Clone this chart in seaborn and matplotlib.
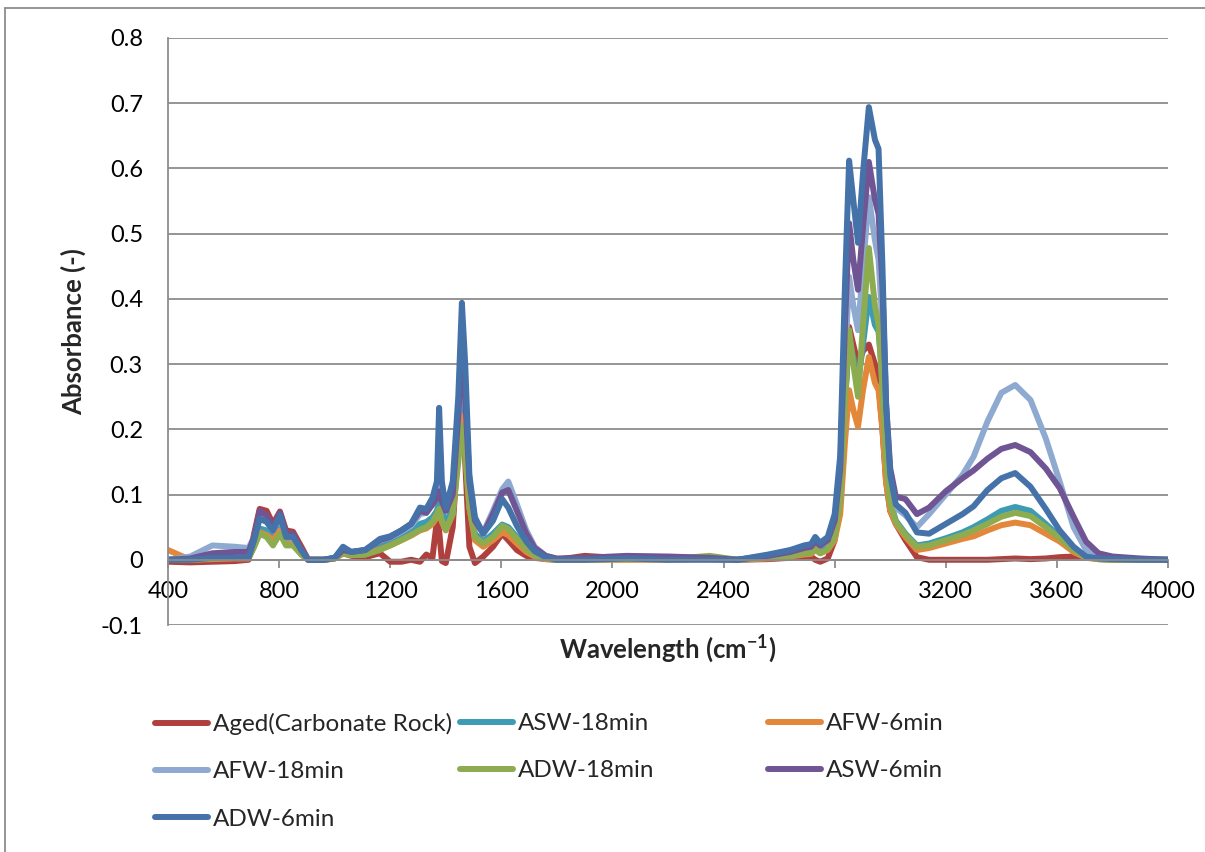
import pandas as pd
import matplotlib.pyplot as plt
import seaborn as sns
from matplotlib.lines import Line2D
from matplotlib.ticker import FuncFormatter

sns.set_style("white")
plt.rcParams["font.family"] = ["Lato", "DejaVu Sans"]
plt.rcParams["mathtext.fontset"] = "custom"
plt.rcParams["mathtext.rm"] = "Lato"
plt.rcParams["mathtext.bf"] = "Lato:bold"
plt.rcParams["mathtext.default"] = "bf"

# wavenumber grid (cm-1) shared by all spectra
wavenumber = [400, 480, 560, 640, 690, 710, 730, 755, 778, 803,
              825, 850, 880, 905, 960, 1000, 1030, 1060, 1110, 1163,
              1200, 1240, 1275, 1307, 1330, 1352, 1368, 1376, 1386, 1400,
              1425, 1445, 1458, 1470, 1485, 1505, 1535, 1570, 1603, 1625,
              1656, 1690, 1720, 1760, 1800, 1900, 2050, 2200, 2350, 2450,
              2560, 2640, 2690, 2715, 2730, 2748, 2775, 2800, 2820, 2837,
              2852, 2867, 2884, 2902, 2923, 2945, 2958, 2972, 2985, 3000,
              3020, 3055, 3096, 3140, 3200, 3260, 3300, 3350, 3400, 3450,
              3505, 3560, 3610, 3660, 3705, 3750, 3800, 3900, 4000]

aged = [-0.003, -0.004, -0.003, -0.002, 0.0, 0.04, 0.078, 0.075, 0.055, 0.074,
        0.045, 0.043, 0.02, 0.0, 0.0, 0.002, 0.01, 0.006, 0.004, 0.01,
        -0.003, -0.003, 0.0, -0.003, 0.008, 0.003, 0.06, 0.045, -0.002, -0.005,
        0.05, 0.18, 0.3, 0.15, 0.02, -0.005, 0.005, 0.02, 0.04, 0.03,
        0.015, 0.006, 0.003, 0.001, 0.0, 0.006, 0.002, 0.001, 0.001, 0.0,
        0.001, 0.003, 0.005, 0.005, 0.0, -0.003, 0.002, 0.03, 0.09, 0.24,
        0.357, 0.33, 0.3, 0.32, 0.33, 0.3, 0.27, 0.2, 0.12, 0.075,
        0.055, 0.03, 0.004, 0.0, 0.0, 0.0, 0.0, 0.0, 0.001, 0.002,
        0.001, 0.002, 0.004, 0.005, 0.004, 0.002, 0.001, 0.0, 0.0]

asw_18 = [0.0, 0.0, 0.002, 0.003, 0.003, 0.025, 0.048, 0.045, 0.035, 0.05,
          0.03, 0.028, 0.01, 0.0, 0.0, 0.002, 0.012, 0.008, 0.01, 0.02,
          0.026, 0.035, 0.043, 0.055, 0.058, 0.065, 0.075, 0.09, 0.075, 0.055,
          0.08, 0.17, 0.25, 0.19, 0.09, 0.04, 0.028, 0.04, 0.054, 0.05,
          0.035, 0.018, 0.008, 0.002, 0.0, 0.001, 0.001, 0.001, 0.003, 0.0,
          0.004, 0.008, 0.012, 0.013, 0.02, 0.014, 0.02, 0.04, 0.1, 0.24,
          0.34, 0.31, 0.27, 0.33, 0.403, 0.36, 0.35, 0.28, 0.16, 0.09,
          0.06, 0.04, 0.022, 0.025, 0.033, 0.042, 0.05, 0.062, 0.075, 0.081,
          0.075, 0.055, 0.035, 0.015, 0.004, 0.001, 0.0, 0.0, 0.0]

afw_6 = [0.015, 0.0, 0.001, 0.002, 0.002, 0.02, 0.042, 0.038, 0.03, 0.045,
         0.025, 0.025, 0.008, 0.0, 0.0, 0.002, 0.01, 0.007, 0.008, 0.016,
         0.022, 0.03, 0.037, 0.045, 0.048, 0.055, 0.065, 0.075, 0.058, 0.045,
         0.07, 0.16, 0.22, 0.17, 0.08, 0.03, 0.02, 0.03, 0.042, 0.038,
         0.025, 0.012, 0.005, 0.001, 0.0, 0.0, 0.0, 0.0, 0.002, 0.0,
         0.002, 0.005, 0.008, 0.009, 0.015, 0.01, 0.015, 0.03, 0.07, 0.18,
         0.26, 0.23, 0.204, 0.26, 0.311, 0.271, 0.26, 0.2, 0.12, 0.075,
         0.055, 0.035, 0.015, 0.018, 0.025, 0.032, 0.036, 0.045, 0.053, 0.057,
         0.053, 0.04, 0.028, 0.012, 0.003, 0.001, 0.0, 0.0, 0.0]

afw_18 = [0.0, 0.005, 0.022, 0.02, 0.018, 0.035, 0.065, 0.06, 0.045, 0.065,
          0.035, 0.033, 0.012, 0.0, 0.0, 0.003, 0.017, 0.012, 0.015, 0.03,
          0.034, 0.043, 0.052, 0.07, 0.072, 0.085, 0.1, 0.115, 0.1, 0.08,
          0.1, 0.22, 0.33, 0.25, 0.12, 0.06, 0.042, 0.075, 0.108, 0.12,
          0.085, 0.045, 0.02, 0.006, 0.001, 0.001, 0.001, 0.001, 0.001, 0.0,
          0.006, 0.012, 0.018, 0.02, 0.028, 0.022, 0.028, 0.055, 0.12, 0.3,
          0.434, 0.39, 0.352, 0.45, 0.556, 0.49, 0.46, 0.36, 0.2, 0.12,
          0.08, 0.068, 0.05, 0.07, 0.1, 0.13, 0.158, 0.212, 0.256, 0.268,
          0.245, 0.186, 0.12, 0.05, 0.015, 0.005, 0.002, 0.0, 0.0]

adw_18 = [0.0, 0.0, 0.002, 0.003, 0.003, 0.02, 0.04, 0.035, 0.022, 0.04,
          0.022, 0.022, 0.008, 0.0, 0.0, 0.002, 0.01, 0.007, 0.008, 0.015,
          0.022, 0.03, 0.038, 0.046, 0.05, 0.058, 0.07, 0.078, 0.06, 0.046,
          0.07, 0.15, 0.205, 0.16, 0.08, 0.035, 0.025, 0.035, 0.052, 0.047,
          0.032, 0.016, 0.007, 0.002, 0.0, 0.0, 0.001, 0.001, 0.006, 0.0,
          0.003, 0.006, 0.01, 0.01, 0.018, 0.01, 0.016, 0.035, 0.09, 0.24,
          0.352, 0.3, 0.25, 0.36, 0.478, 0.39, 0.36, 0.26, 0.15, 0.085,
          0.058, 0.038, 0.02, 0.022, 0.03, 0.038, 0.045, 0.055, 0.066, 0.072,
          0.067, 0.05, 0.033, 0.015, 0.004, 0.001, 0.0, 0.0, 0.0]

asw_6 = [0.0, 0.002, 0.01, 0.012, 0.012, 0.035, 0.075, 0.068, 0.05, 0.072,
         0.04, 0.04, 0.015, 0.0, 0.0, 0.003, 0.015, 0.012, 0.015, 0.03,
         0.035, 0.045, 0.055, 0.075, 0.072, 0.085, 0.095, 0.105, 0.09, 0.075,
         0.1, 0.22, 0.33, 0.25, 0.12, 0.06, 0.04, 0.07, 0.103, 0.107,
         0.075, 0.04, 0.018, 0.006, 0.002, 0.003, 0.006, 0.005, 0.003, 0.0,
         0.006, 0.012, 0.018, 0.02, 0.028, 0.022, 0.03, 0.06, 0.14, 0.36,
         0.516, 0.46, 0.414, 0.51, 0.61, 0.552, 0.53, 0.42, 0.24, 0.14,
         0.097, 0.093, 0.07, 0.08, 0.105, 0.125, 0.137, 0.155, 0.17, 0.176,
         0.165, 0.14, 0.11, 0.066, 0.028, 0.01, 0.005, 0.002, 0.0]

adw_6 = [0.0, 0.0, 0.003, 0.003, 0.003, 0.03, 0.063, 0.058, 0.045, 0.068,
         0.035, 0.035, 0.015, 0.0, 0.0, 0.003, 0.02, 0.012, 0.015, 0.032,
         0.036, 0.045, 0.055, 0.08, 0.078, 0.095, 0.12, 0.233, 0.12, 0.08,
         0.12, 0.25, 0.394, 0.3, 0.13, 0.065, 0.04, 0.06, 0.093, 0.08,
         0.052, 0.028, 0.013, 0.004, 0.0, 0.0, 0.002, 0.0, 0.0, 0.0,
         0.008, 0.015, 0.022, 0.024, 0.035, 0.026, 0.035, 0.07, 0.16, 0.42,
         0.612, 0.552, 0.486, 0.593, 0.694, 0.644, 0.63, 0.45, 0.24, 0.13,
         0.085, 0.072, 0.042, 0.04, 0.055, 0.07, 0.082, 0.107, 0.125, 0.133,
         0.112, 0.078, 0.045, 0.02, 0.005, 0.002, 0.001, 0.0, 0.0]

series_names = ["Aged(Carbonate Rock)", "ASW-18min", "AFW-6min", "AFW-18min",
                "ADW-18min", "ASW-6min", "ADW-6min"]
series_values = [aged, asw_18, afw_6, afw_18, adw_18, asw_6, adw_6]
colors = ["#B0403D", "#3D9CB3", "#E3873A", "#8FAAD1", "#8DAC50", "#705595", "#4573A9"]

df = pd.concat([pd.DataFrame({"Wavenumber": wavenumber, "Absorbance": vals, "Sample": name})
                for name, vals in zip(series_names, series_values)], ignore_index=True)

fig = plt.figure(figsize=(12.05, 8.52), dpi=100)
ax = fig.add_axes([168 / 1205, 1 - 625 / 852, 1000 / 1205, 587 / 852])

sns.lineplot(data=df, x="Wavenumber", y="Absorbance", hue="Sample",
             hue_order=series_names, palette=colors, linewidth=4.3,
             solid_joinstyle="round", solid_capstyle="round",
             estimator=None, sort=False, legend=False, ax=ax)

ax.set_xlim(400, 4000)
ax.set_ylim(-0.1, 0.8)
ax.set_xticks(range(400, 4001, 400))
ax.set_yticks([-0.1, 0, 0.1, 0.2, 0.3, 0.4, 0.5, 0.6, 0.7, 0.8])
ax.yaxis.set_major_formatter(FuncFormatter(lambda v, p: f"{round(v, 1):g}"))
ax.grid(axis="y", color="#8C8C8C", linewidth=1.3)
ax.grid(axis="x", visible=False)
ax.set_axisbelow(True)

for side in ["top", "right"]:
    ax.spines[side].set_visible(False)
ax.spines["bottom"].set_position(("data", 0))
ax.spines["bottom"].set_color("#8C8C8C")
ax.spines["bottom"].set_linewidth(1.3)
ax.spines["left"].set_color("#8C8C8C")
ax.spines["left"].set_linewidth(1.3)

ax.tick_params(axis="x", direction="out", length=6, width=1.3, color="#8C8C8C",
               pad=9, labelsize=17, labelcolor="black", bottom=True)
ax.tick_params(axis="y", length=0, pad=18, labelsize=17, labelcolor="black", left=True)

ax.set_xlabel("Wavelength (cm$^{-1}$)", fontsize=18.5, fontweight="bold")
ax.set_ylabel("Absorbance (-)", fontsize=18.5, fontweight="bold")
ax.xaxis.set_label_coords(0.5, -0.014)
ax.yaxis.set_label_coords(-0.082, 0.5)

# chart area border (top and left edges visible)
fig.add_artist(Line2D([5 / 1205, 1.0], [1 - 8 / 852, 1 - 8 / 852], color="#8C8C8C", linewidth=1.3))
fig.add_artist(Line2D([5 / 1205, 5 / 1205], [0.0, 1 - 8 / 852], color="#8C8C8C", linewidth=1.3))

# legend laid out as three columns, filled row by row
columns = [[0, 3, 6], [1, 4], [2, 5]]
col_x = [155, 460, 768]
for idx, x0 in zip(columns, col_x):
    handles = [Line2D([], [], color=colors[i], linewidth=4.3, solid_capstyle="round") for i in idx]
    labels = [series_names[i] for i in idx]
    fig.legend(handles, labels, loc="upper left", bbox_to_anchor=(x0 / 1205, 1 - 713 / 852),
               frameon=False, fontsize=17.5, handlelength=2.2, handletextpad=0.18,
               labelspacing=1.08, borderpad=0, borderaxespad=0)

fig.savefig("out.png", dpi=100)
